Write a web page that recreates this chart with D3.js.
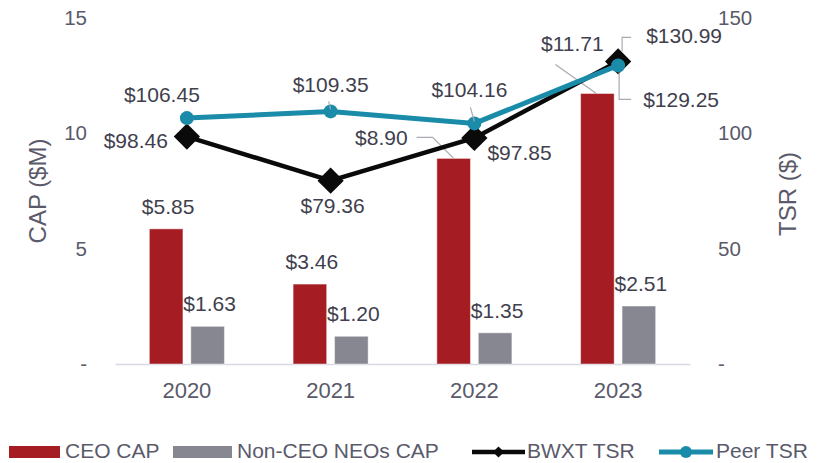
<!DOCTYPE html>
<html>
<head>
<meta charset="utf-8">
<script src="https://cdn.jsdelivr.net/npm/d3@7"></script>
<style>
  body { margin: 0; background: #fff; }
  svg text { font-family: "Liberation Sans", Arial, sans-serif; }
</style>
</head>
<body>
<svg id="chart" width="817" height="463"></svg>
<script>
// chart values
var years = ["2020", "2021", "2022", "2023"];
var ceoCap = [5.85, 3.46, 8.90, 11.71];
var neoCap = [1.63, 1.20, 1.35, 2.51];
var bwxtTsr = [98.46, 79.36, 97.85, 130.99];
var peerTsr = [106.45, 109.35, 104.16, 129.25];
var capTicks = [0, 5, 10, 15];
var tsrTicks = [0, 50, 100, 150];

var svg = d3.select("#chart");
var plotL = 115, plotR = 690, plotT = 17.5, plotB = 364;

// scales
var x0 = d3.scaleBand().domain(years).range([plotL, plotR])
    .paddingInner(0.478).paddingOuter(0.239);
var x1 = d3.scaleBand().domain(["ceo", "neo"]).range([0, x0.bandwidth()])
    .paddingInner(0.19);
var yCap = d3.scaleLinear().domain([0, 15]).range([plotB, plotT]);
var yTsr = d3.scaleLinear().domain([0, 150]).range([plotB, plotT]);
var cx = function(yr) { return x0(yr) + x0.bandwidth() / 2; };

var tickFmt = function(d) { return d === 0 ? "-" : d; };
var textCol = "#5a5a6a", labelCol = "#3f3f4e", leadCol = "#a9a9b3";
var labSize = 21;

// left axis
var axL = svg.append("g").attr("transform", "translate(95,0)")
    .call(d3.axisLeft(yCap).tickValues(capTicks).tickFormat(tickFmt).tickSize(0).tickPadding(8));
axL.select(".domain").remove();
axL.selectAll("text").attr("font-size", 20.5).attr("fill", textCol)
    .attr("font-family", "Liberation Sans, Arial, sans-serif");

// right axis
var axR = svg.append("g").attr("transform", "translate(710,0)")
    .call(d3.axisRight(yTsr).tickValues(tsrTicks).tickFormat(tickFmt).tickSize(0).tickPadding(8));
axR.select(".domain").remove();
axR.selectAll("text").attr("font-size", 20.5).attr("fill", textCol)
    .attr("font-family", "Liberation Sans, Arial, sans-serif");

// x axis
var axB = svg.append("g").attr("transform", "translate(0," + plotB + ")")
    .call(d3.axisBottom(x0).tickSize(0).tickPadding(18));
axB.select(".domain").attr("stroke", "#d9d9e4").attr("stroke-width", 1.5);
axB.selectAll("text").attr("font-size", 22).attr("fill", textCol)
    .attr("font-family", "Liberation Sans, Arial, sans-serif");

// axis titles
svg.append("text").attr("transform", "translate(46,191) rotate(-90)")
    .attr("text-anchor", "middle").attr("font-size", 24).attr("fill", textCol)
    .text("CAP ($M)");
svg.append("text").attr("transform", "translate(796,194) rotate(-90)")
    .attr("text-anchor", "middle").attr("font-size", 24).attr("fill", textCol)
    .text("TSR ($)");

// bars
var barData = [];
years.forEach(function(yr, i) {
  barData.push({ yr: yr, key: "ceo", v: ceoCap[i], i: i });
  barData.push({ yr: yr, key: "neo", v: neoCap[i], i: i });
});
var barCol = { ceo: "#a51c22", neo: "#878792" };

svg.append("g").selectAll("rect").data(barData).enter().append("rect")
    .attr("x", function(d) { return x0(d.yr) + x1(d.key); })
    .attr("y", function(d) { return yCap(d.v); })
    .attr("width", x1.bandwidth())
    .attr("height", function(d) { return plotB - yCap(d.v); })
    .attr("fill", function(d) { return barCol[d.key]; })
    .attr("stroke", "#ffffff").attr("stroke-opacity", 0.45).attr("stroke-width", 1);

// bar labels: most sit above the bar, two have leader lines
var barLab = svg.append("g");
barData.forEach(function(d) {
  var bx = x0(d.yr) + x1(d.key) + x1.bandwidth() / 2, by = yCap(d.v);
  var tx = bx + 2, ty = by - 15, anchor = "middle";
  if (d.key === "ceo" && d.i === 2) {
    tx = bx - 46; ty = by - 13; anchor = "end";
    barLab.append("polyline")
      .attr("points", [[bx - 37, by - 21], [bx - 21, by - 21], [bx, by]].join(" "))
      .attr("fill", "none").attr("stroke", leadCol).attr("stroke-width", 1.2);
  }
  if (d.key === "ceo" && d.i === 3) {
    tx = bx - 25; ty = by - 42;
    barLab.append("line")
      .attr("x1", bx - 42).attr("y1", by - 29).attr("x2", bx - 1).attr("y2", by)
      .attr("stroke", leadCol).attr("stroke-width", 1.2);
  }
  barLab.append("text").attr("x", tx).attr("y", ty)
    .attr("text-anchor", anchor).attr("font-size", labSize).attr("fill", labelCol)
    .text("$" + d3.format(".2f")(d.v));
});

// lines
var line = d3.line()
    .x(function(d) { return cx(d.yr); })
    .y(function(d) { return yTsr(d.v); });
var bwxtData = years.map(function(yr, i) { return { yr: yr, v: bwxtTsr[i] }; });
var peerData = years.map(function(yr, i) { return { yr: yr, v: peerTsr[i] }; });

svg.append("path").datum(bwxtData).attr("d", line)
    .attr("fill", "none").attr("stroke", "#0a0a0a").attr("stroke-width", 4.5);
svg.append("g").selectAll("path").data(bwxtData).enter().append("path")
    .attr("d", d3.symbol().type(d3.symbolDiamond2).size(440))
    .attr("transform", function(d) { return "translate(" + cx(d.yr) + "," + yTsr(d.v) + ")"; })
    .attr("fill", "#0a0a0a");

svg.append("path").datum(peerData).attr("d", line)
    .attr("fill", "none").attr("stroke", "#1a8ba8").attr("stroke-width", 5);
svg.append("g").selectAll("circle").data(peerData).enter().append("circle")
    .attr("cx", function(d) { return cx(d.yr); })
    .attr("cy", function(d) { return yTsr(d.v); })
    .attr("r", 7).attr("fill", "#1a8ba8");

// line labels, offsets from each marker
var bwxtPos = [
  { dx: -19, dy: 11, a: "end" },
  { dx: 2, dy: 32, a: "middle" },
  { dx: 13, dy: 22, a: "start" },
  { dx: 28, dy: -18, a: "start", lead: [[13, -24], [4, -24], [4, -10]] }
];
var peerPos = [
  { dx: -25, dy: -16, a: "middle" },
  { dx: 0, dy: -19, a: "middle", lead: [[-2, -10], [0, -2]] },
  { dx: -5, dy: -26, a: "middle", lead: [[-4, -16], [0, -2]] },
  { dx: 25, dy: 42, a: "start", lead: [[13, 34], [1, 34], [1, 7]] }
];
function lineLabels(data, pos) {
  var g = svg.append("g");
  data.forEach(function(d, i) {
    var mx = cx(d.yr), my = yTsr(d.v), p = pos[i];
    if (p.lead) {
      g.append("polyline")
        .attr("points", p.lead.map(function(q) { return [mx + q[0], my + q[1]]; }).join(" "))
        .attr("fill", "none").attr("stroke", leadCol).attr("stroke-width", 1.2);
    }
    g.append("text").attr("x", mx + p.dx).attr("y", my + p.dy)
      .attr("text-anchor", p.a).attr("font-size", labSize).attr("fill", labelCol)
      .text("$" + d3.format(".2f")(d.v));
  });
}
lineLabels(bwxtData, bwxtPos);
lineLabels(peerData, peerPos);

// legend
var leg = svg.append("g").attr("transform", "translate(0,452)");
leg.append("rect").attr("x", 9).attr("y", -6).attr("width", 51).attr("height", 12).attr("fill", barCol.ceo);
leg.append("text").attr("x", 65).attr("y", 6).attr("font-size", 21).attr("fill", textCol).text("CEO CAP");
leg.append("rect").attr("x", 173).attr("y", -6).attr("width", 59).attr("height", 12).attr("fill", barCol.neo);
leg.append("text").attr("x", 237).attr("y", 6).attr("font-size", 21).attr("fill", textCol).text("Non-CEO NEOs CAP");

leg.append("line").attr("x1", 472).attr("x2", 525).attr("y1", 0).attr("y2", 0)
    .attr("stroke", "#0a0a0a").attr("stroke-width", 4.5);
leg.append("path").attr("d", d3.symbol().type(d3.symbolDiamond2).size(80))
    .attr("transform", "translate(498.5,0)").attr("fill", "#0a0a0a");
leg.append("text").attr("x", 527).attr("y", 6).attr("font-size", 21).attr("fill", textCol).text("BWXT TSR");

leg.append("line").attr("x1", 659).attr("x2", 713).attr("y1", 0).attr("y2", 0)
    .attr("stroke", "#1a8ba8").attr("stroke-width", 5);
leg.append("circle").attr("cx", 686).attr("cy", 0).attr("r", 6).attr("fill", "#1a8ba8");
leg.append("text").attr("x", 716).attr("y", 6).attr("font-size", 21).attr("fill", textCol).text("Peer TSR");
</script>
</body>
</html>
